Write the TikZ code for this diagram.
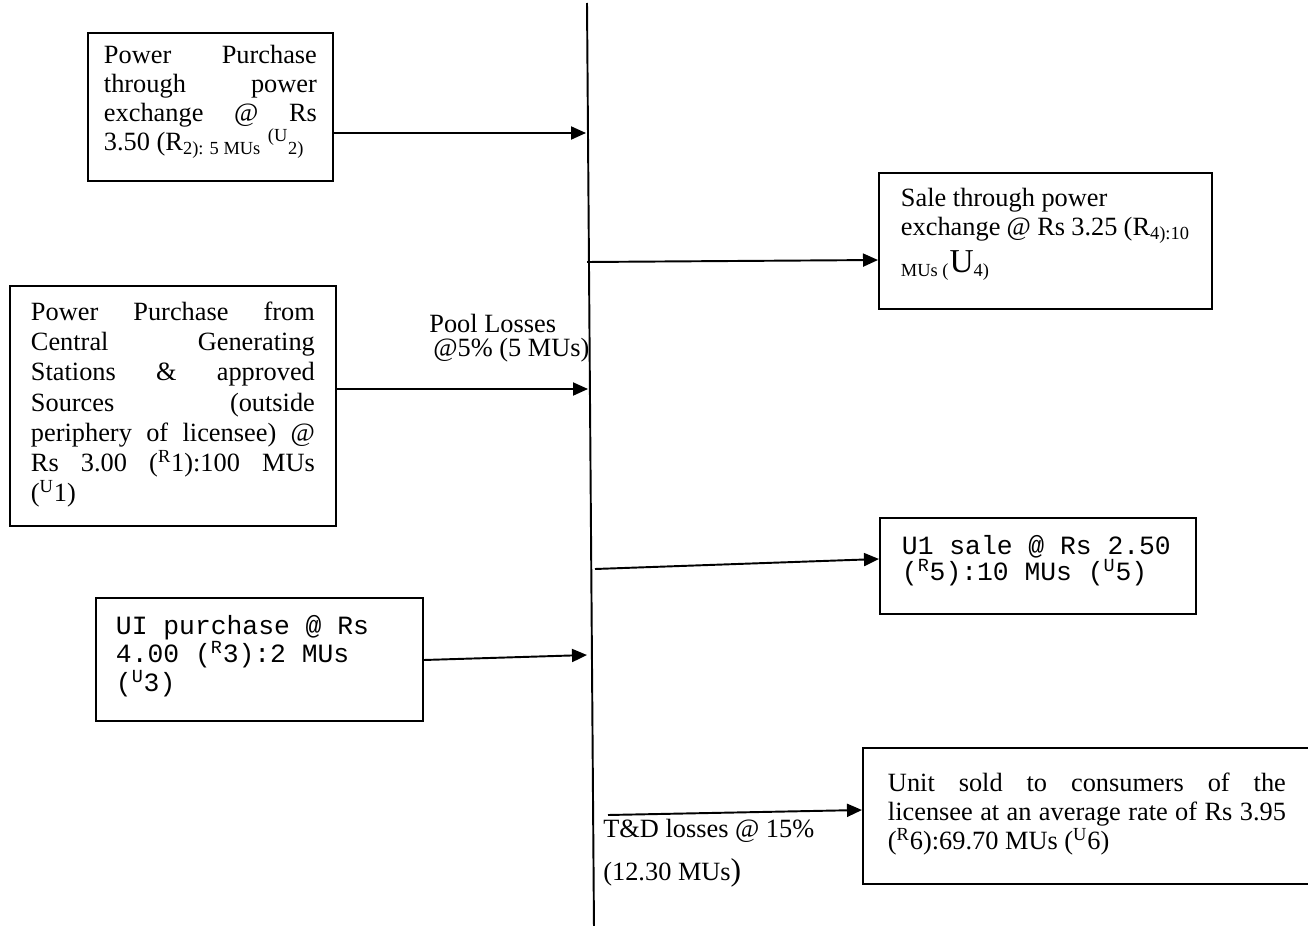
\documentclass[tikz,border=0pt]{standalone}
\usepackage{fontspec}
\setmainfont{Liberation Serif}
\setmonofont{Liberation Mono}
\usepackage{tikz}
\usetikzlibrary{arrows.meta}
% top-aligned text block of fixed height and width
\newcommand{\boxpar}[3]{\parbox[c][#1][t]{#2}{\sloppy\hyphenpenalty=10000 #3}}

\begin{document}
\begin{tikzpicture}[
  x=0.02cm, y=-0.02cm,
  box/.style={rectangle, draw, line width=1.1pt, anchor=north west,
    font=\fontsize{15}{16.5}\selectfont},
  mbox/.style={box, font=\ttfamily\fontsize{15}{14.2}\selectfont},
  label/.style={inner sep=0pt, anchor=north west, align=left},
  arrow/.style={-{Triangle[length=0.3cm,width=0.26cm]}, line width=1.1pt},
  bus/.style={line width=1.1pt}
]
\useasboundingbox (0,0) rectangle (1308,926);

% Bus line
\coordinate (bus top) at (587,3);
\coordinate (bus bot) at (594,930);
\draw[bus] (bus top) -- (bus bot);

% Left column: purchases
\node[box, inner xsep=0.32cm, inner ysep=0.24cm] (pur_px) at (87,32)
  {\boxpar{2.48cm}{4.26cm}{Power Purchase\linebreak through power\linebreak
   exchange @ Rs\linebreak 3.50 (R\textsubscript{2): 5 MUs}
   \textsuperscript{(U}\textsubscript{2)}}};
\node[box, inner xsep=0.42cm, inner ysep=0.32cm,
      font=\fontsize{15}{17.2}\selectfont] (pur_cgs) at (9,285)
  {\boxpar{4.16cm}{5.68cm}{Power Purchase from\linebreak Central Generating\linebreak
   Stations \& approved\linebreak Sources (outside\linebreak
   periphery of licensee) @\linebreak
   Rs 3.00 (\textsuperscript{R}1):100 MUs\linebreak (\textsuperscript{U}1)}};
\node[mbox, inner xsep=0.4cm, inner ysep=0.34cm] (pur_ui) at (95,597)
  {\boxpar{1.78cm}{5.74cm}{\raggedright UI purchase @ Rs\\
   4.00 (\textsuperscript{R}3):2 MUs\\ (\textsuperscript{U}3)}};

% Right column: sales
\node[box, inner xsep=0.44cm, inner ysep=0.3cm] (sale_px) at (878,172)
  {\boxpar{2.12cm}{5.78cm}{\raggedright Sale through power\\
   exchange @ Rs 3.25 (R\textsubscript{4):10}\\[3pt]
   \textsubscript{MUs (}{\fontsize{19}{19}\selectfont U}\textsubscript{4)}}};
\node[mbox, inner xsep=0.44cm, inner ysep=0.34cm] (sale_ui) at (879,517)
  {\boxpar{1.24cm}{5.44cm}{\raggedright U1 sale @ Rs 2.50\\
   (\textsuperscript{R}5):10 MUs (\textsuperscript{U}5)}};
\node[box, inner xsep=0.5cm, inner ysep=0.5cm] (sale_cons) at (862,747)
  {\boxpar{1.72cm}{7.96cm}{Unit sold to consumers of the\linebreak
   licensee at an average rate of Rs 3.95\linebreak
   (\textsuperscript{R}6):69.70 MUs (\textsuperscript{U}6)}};

% Loss labels
\node[label, font=\fontsize{15}{13.5}\selectfont] (pool) at (429,314)
  {Pool Losses\\\hspace{0.08cm}@5\% (5 MUs)};
\node[label, font=\fontsize{15}{16.5}\selectfont] (td) at (603,819)
  {T\&D losses @ 15\%\\[8pt](12.30 MUs{\fontsize{18}{18}\selectfont )}};

% Connectors
\coordinate (in1) at (586,133);
\coordinate (in2) at (588,389);
\coordinate (in3) at (587,655);
\coordinate (out1) at (587,262);
\coordinate (out2) at (595,569);
\coordinate (out3) at (608,815);

\draw[arrow] (pur_px.east |- in1) -- (in1);
\draw[arrow] (pur_cgs.east |- in2) -- (in2);
\draw[arrow] (pur_ui.east |- 0,660) -- (in3);
\draw[arrow] (out1) -- (sale_px.west |- 0,260);
\draw[arrow] (out2) -- (sale_ui.west |- 0,559);
\draw[arrow] (out3) -- (sale_cons.west |- 0,810);
\end{tikzpicture}
\end{document}
